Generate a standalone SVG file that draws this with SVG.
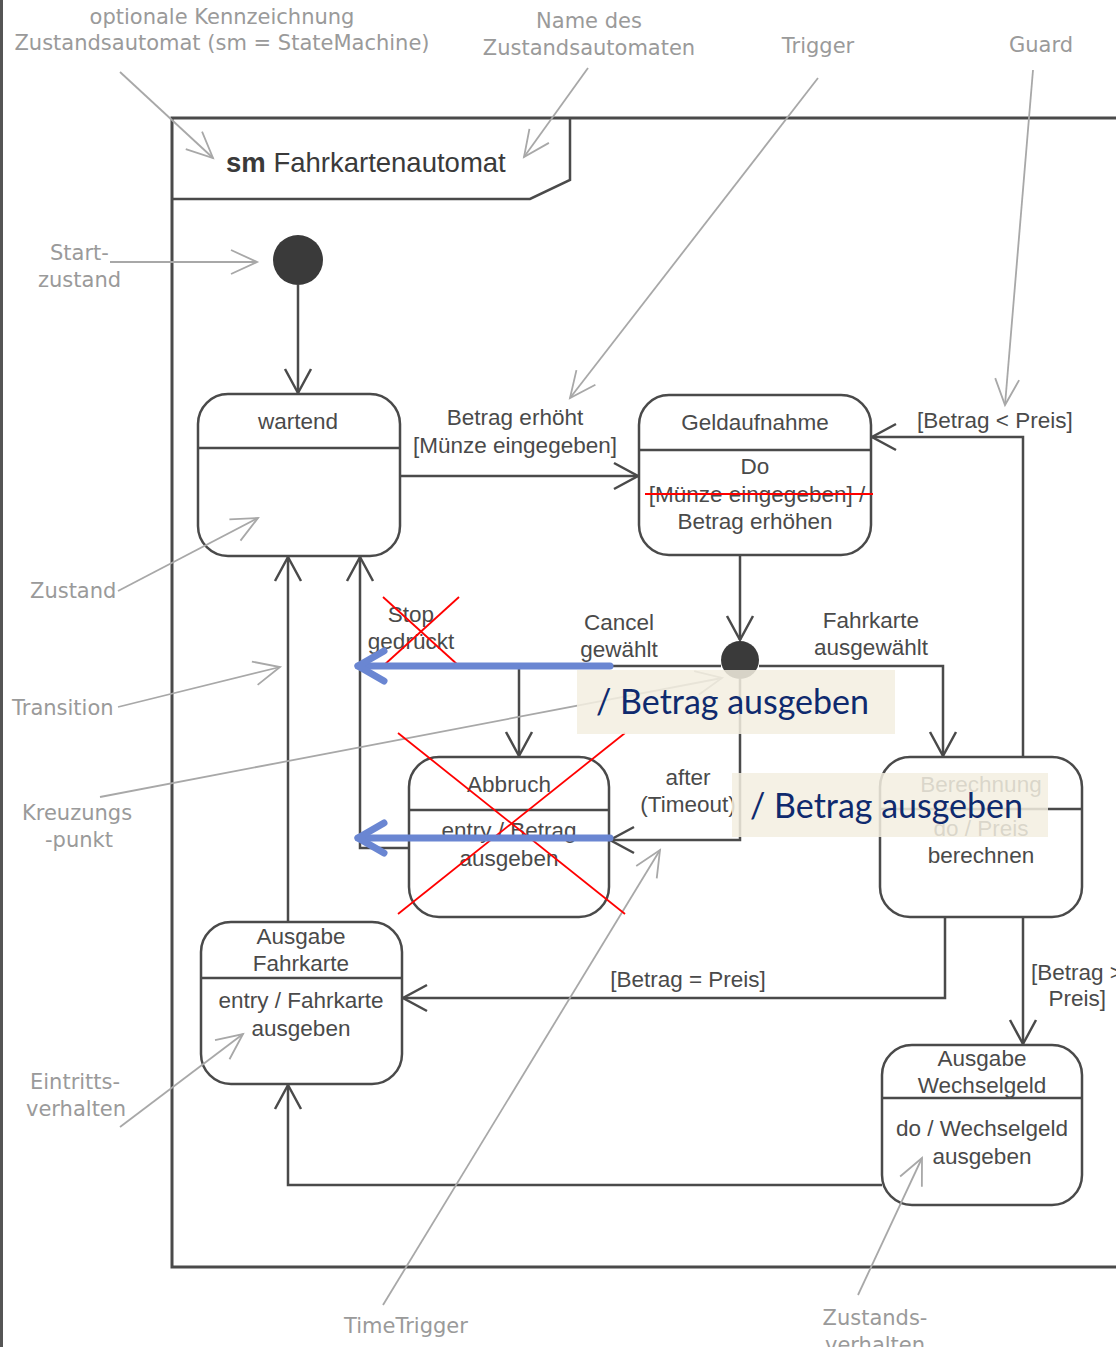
<svg xmlns="http://www.w3.org/2000/svg" width="1116" height="1347" viewBox="0 0 1116 1347">
  <style>
    text { font-family: "Liberation Sans", Arial, sans-serif; }
    .st { fill: #fff; stroke: #4a4a4a; stroke-width: 2.5; }
    .dv { stroke: #4a4a4a; stroke-width: 2.5; }
    .lbl { font-size: 22.5px; fill: #4a4a4a; text-anchor: middle; }
    .edge { fill: none; stroke: #4a4a4a; stroke-width: 2.5; marker-end: url(#open); }
    .line { fill: none; stroke: #4a4a4a; stroke-width: 2.5; }
    .ann { font-size: 21px; fill: #9a9a9a; font-family: "DejaVu Sans", sans-serif; }
    .annl { fill: none; stroke: #a8a8a8; stroke-width: 1.8; marker-end: url(#openl); }
    .red { stroke: #ff0000; stroke-width: 1.8; }
    .blue { fill: none; stroke: #6a86d2; stroke-width: 7; stroke-linecap: round; stroke-linejoin: round; }
    .hl { fill: #f3efe1; opacity: 0.85; }
    .hlt { font-family: Lato, "Open Sans", sans-serif; font-size: 34px; fill: #0f2a6e; }
  </style>
  <defs>
    <marker id="open" markerUnits="userSpaceOnUse" markerWidth="40" markerHeight="40" refX="0" refY="0" orient="auto" overflow="visible">
      <path d="M -24 -13 L 0 0 L -24 13" fill="none" stroke="#4a4a4a" stroke-width="2.5"/>
    </marker>
    <marker id="openl" markerUnits="userSpaceOnUse" markerWidth="40" markerHeight="40" refX="0" refY="0" orient="auto" overflow="visible">
      <path d="M -26 -12 L 0 0 L -26 12" fill="none" stroke="#a8a8a8" stroke-width="1.8"/>
    </marker>
  </defs>

  <rect width="1116" height="1347" fill="#fff"/>
  <rect x="0" y="0" width="3" height="1347" fill="#555"/>

  <!-- frame of the state machine -->
  <g id="frame">
    <path d="M 1116 118 L 172 118 L 172 1267 L 1116 1267" fill="none" stroke="#4a4a4a" stroke-width="3"/>
    <path d="M 570 118 L 570 180 L 530 199 L 172 199" fill="none" stroke="#4a4a4a" stroke-width="2.5"/>
    <text x="226" y="172" font-size="27.5" fill="#3a3a3a"><tspan font-weight="bold">sm</tspan> Fahrkartenautomat</text>
  </g>

  <!-- connectors -->
  <g id="connectors">
    <path class="edge" d="M 298 285 L 298 393"/>
    <path class="edge" d="M 400 476 L 638 476"/>
    <text class="lbl" x="515" y="425">Betrag erhöht</text>
    <text class="lbl" x="515" y="453">[Münze eingegeben]</text>
    <path class="edge" d="M 740 555 L 740 640"/>
    <!-- junction outgoing -->
    <path class="line" d="M 721 666 L 519 666"/>
    <path class="edge" d="M 519 666 L 519 756"/>
    <path class="edge" d="M 759 666 L 943 666 L 943 756"/>
    <text class="lbl" x="871" y="628">Fahrkarte</text>
    <text class="lbl" x="871" y="655">ausgewählt</text>
    <text class="lbl" x="619" y="630">Cancel</text>
    <text class="lbl" x="619" y="657">gewählt</text>
    <!-- Stop gedrückt -->
    <path class="edge" d="M 409 848 L 360 848 L 360 557"/>
    <text class="lbl" x="411" y="622">Stop</text>
    <text class="lbl" x="411" y="649">gedrückt</text>
    <!-- after timeout -->
    <path class="edge" d="M 740 679 L 740 840 L 610 840"/>
    <text class="lbl" x="688" y="785">after</text>
    <text class="lbl" x="688" y="812">(Timeout)</text>
    <!-- Ausgabe Fahrkarte to wartend -->
    <path class="edge" d="M 288 922 L 288 557"/>
    <!-- Berechnung outgoing -->
    <path class="edge" d="M 945 917 L 945 998 L 403 998"/>
    <text class="lbl" x="688" y="987">[Betrag = Preis]</text>
    <path class="edge" d="M 1023 917 L 1023 1044"/>
    <text x="1031" y="980" font-size="22.5" fill="#4a4a4a">[Betrag &gt;</text>
    <text x="1106" y="1006" font-size="22.5" fill="#4a4a4a" text-anchor="end">Preis]</text>
    <path class="edge" d="M 1023 757 L 1023 437 L 872 437"/>
    <text x="917" y="428" font-size="22.5" fill="#4a4a4a">[Betrag &lt; Preis]</text>
    <!-- Wechselgeld back to Ausgabe Fahrkarte -->
    <path class="edge" d="M 882 1185 L 288 1185 L 288 1085"/>
  </g>

  <!-- states -->
  <g id="start">
    <circle cx="298" cy="260" r="25" fill="#3a3a3a"/>
  </g>
  <g id="wartend">
    <rect class="st" x="198" y="394" width="202" height="162" rx="30"/>
    <line class="dv" x1="198" y1="448" x2="400" y2="448"/>
    <text class="lbl" x="298" y="429">wartend</text>
  </g>
  <g id="geldaufnahme">
    <rect class="st" x="639" y="395" width="232" height="160" rx="30"/>
    <line class="dv" x1="639" y1="450" x2="871" y2="450"/>
    <text class="lbl" x="755" y="430">Geldaufnahme</text>
    <text class="lbl" x="755" y="474">Do</text>
    <text class="lbl" x="757" y="502">[Münze eingegeben]  /</text>
    <text class="lbl" x="755" y="529">Betrag erhöhen</text>
    <line class="red" x1="645" y1="494" x2="873" y2="494" stroke-width="2"/>
  </g>
  <g id="junction">
    <circle cx="740" cy="660" r="19" fill="#3a3a3a"/>
  </g>
  <g id="abbruch">
    <rect class="st" x="409" y="757" width="200" height="160" rx="30"/>
    <line class="dv" x1="409" y1="810" x2="609" y2="810"/>
    <text class="lbl" x="509" y="792">Abbruch</text>
    <text class="lbl" x="509" y="838">entry / Betrag</text>
    <text class="lbl" x="509" y="866">ausgeben</text>
  </g>
  <g id="berechnung">
    <rect class="st" x="880" y="757" width="202" height="160" rx="30"/>
    <line class="dv" x1="880" y1="809" x2="1082" y2="809"/>
    <text class="lbl" x="981" y="792">Berechnung</text>
    <text class="lbl" x="981" y="836">do / Preis</text>
    <text class="lbl" x="981" y="863">berechnen</text>
  </g>
  <g id="ausgabe-fahrkarte">
    <rect class="st" x="201" y="922" width="201" height="162" rx="30"/>
    <line class="dv" x1="201" y1="978" x2="402" y2="978"/>
    <text class="lbl" x="301" y="944">Ausgabe</text>
    <text class="lbl" x="301" y="971">Fahrkarte</text>
    <text class="lbl" x="301" y="1008">entry / Fahrkarte</text>
    <text class="lbl" x="301" y="1036">ausgeben</text>
  </g>
  <g id="ausgabe-wechselgeld">
    <rect class="st" x="882" y="1045" width="200" height="160" rx="30"/>
    <line class="dv" x1="882" y1="1098" x2="1082" y2="1098"/>
    <text class="lbl" x="982" y="1066">Ausgabe</text>
    <text class="lbl" x="982" y="1093">Wechselgeld</text>
    <text class="lbl" x="982" y="1136">do / Wechselgeld</text>
    <text class="lbl" x="982" y="1164">ausgeben</text>
  </g>

  <!-- explanatory annotations -->
  <g id="annotations">
    <text class="ann" x="222" y="24" text-anchor="middle">optionale Kennzeichnung</text>
    <text class="ann" x="222" y="50" text-anchor="middle">Zustandsautomat (sm = StateMachine)</text>
    <path class="annl" d="M 120 72 L 213 158"/>
    <text class="ann" x="589" y="28" text-anchor="middle">Name des</text>
    <text class="ann" x="589" y="55" text-anchor="middle">Zustandsautomaten</text>
    <path class="annl" d="M 588 68 L 524 157"/>
    <text class="ann" x="818" y="53" text-anchor="middle">Trigger</text>
    <path class="annl" d="M 818 78 L 570 398"/>
    <text class="ann" x="1041" y="52" text-anchor="middle">Guard</text>
    <path class="annl" d="M 1033 70 L 1005 405"/>
    <text class="ann" x="50" y="260">Start-</text>
    <text class="ann" x="38" y="287">zustand</text>
    <path class="annl" d="M 110 262 L 257 262"/>
    <text class="ann" x="30" y="598">Zustand</text>
    <path class="annl" d="M 118 591 L 258 518"/>
    <text class="ann" x="12" y="715">Transition</text>
    <path class="annl" d="M 118 707 L 280 667"/>
    <text class="ann" x="22" y="820">Kreuzungs</text>
    <text class="ann" x="45" y="847">-punkt</text>
    <path class="annl" d="M 100 797 L 722 678"/>
    <text class="ann" x="30" y="1089">Eintritts-</text>
    <text class="ann" x="26" y="1116">verhalten</text>
    <path class="annl" d="M 120 1127 L 243 1034"/>
    <text class="ann" x="406" y="1333" text-anchor="middle">TimeTrigger</text>
    <path class="annl" d="M 383 1305 L 660 850"/>
    <text class="ann" x="875" y="1325" text-anchor="middle">Zustands-</text>
    <text class="ann" x="875" y="1352" text-anchor="middle">verhalten</text>
    <path class="annl" d="M 858 1295 L 922 1158"/>
  </g>

  <!-- corrections drawn on top -->
  <g id="corrections">
    <line class="red" x1="383" y1="597" x2="459" y2="666"/>
    <line class="red" x1="459" y1="597" x2="383" y2="666"/>
    <line class="red" x1="398" y1="733" x2="625" y2="914"/>
    <line class="red" x1="625" y1="733" x2="398" y2="914"/>
    <path class="blue" d="M 610 666 L 358 666"/>
    <path class="blue" d="M 384 651 L 358 666 L 384 681"/>
    <path class="blue" d="M 610 838 L 358 838"/>
    <path class="blue" d="M 384 823 L 358 838 L 384 853"/>
    <rect class="hl" x="577" y="670" width="318" height="64"/>
    <text class="hlt" x="596" y="714">/ Betrag ausgeben</text>
    <rect class="hl" x="732" y="773" width="316" height="64"/>
    <text class="hlt" x="750" y="818">/ Betrag ausgeben</text>
  </g>
</svg>
